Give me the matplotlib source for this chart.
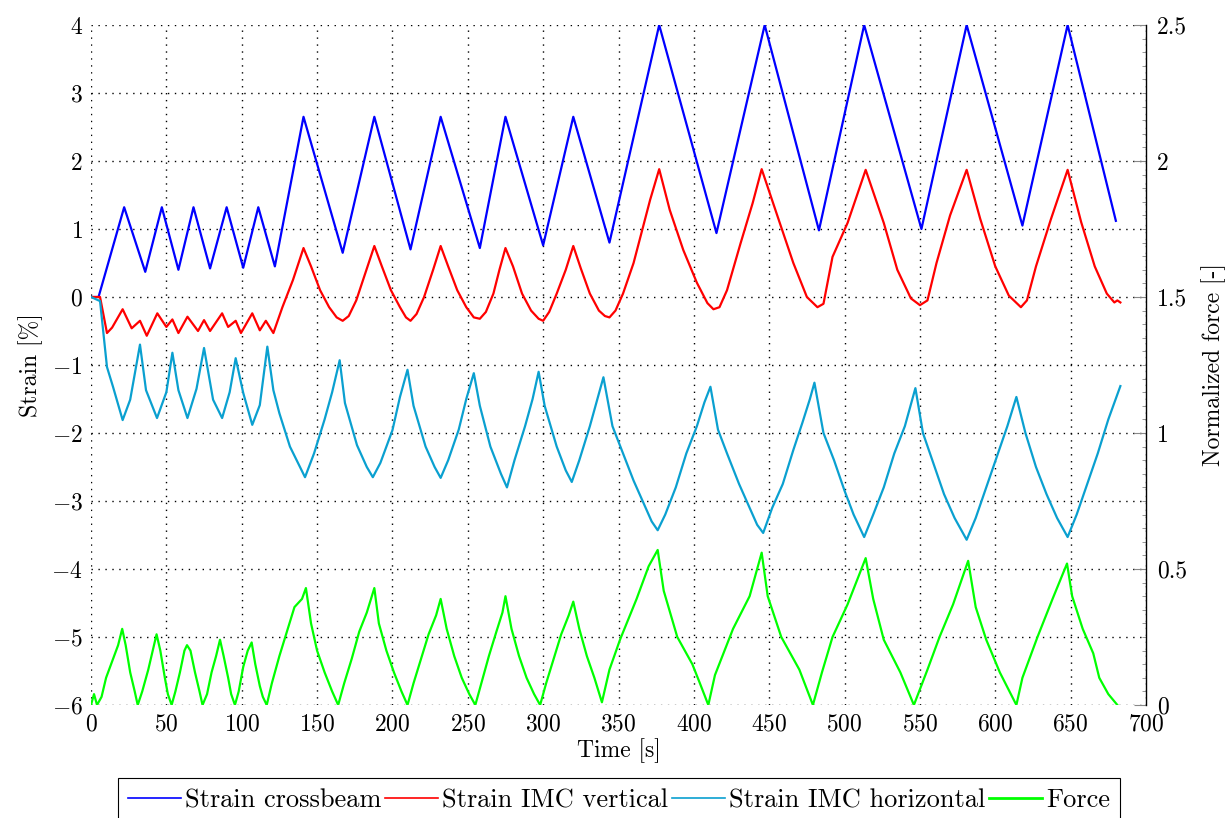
import matplotlib
matplotlib.use("Agg")
import matplotlib.pyplot as plt
from matplotlib.lines import Line2D
from matplotlib.ticker import MultipleLocator

plt.rcParams["font.family"] = "serif"
plt.rcParams["font.serif"] = ["cmr10", "DejaVu Serif"]
plt.rcParams["mathtext.fontset"] = "cm"
plt.rcParams["axes.formatter.use_mathtext"] = True
plt.rcParams["font.size"] = 17

# ---- data ----
cross_t = [0, 5, 22, 36, 47, 58, 68, 79, 90, 101, 111, 122, 141, 167, 188, 212, 232, 258,
           275, 300, 320, 344, 377, 415, 447, 483, 513, 551, 581, 618, 648, 680]
cross_y = [0, 0, 1.32, 0.37, 1.32, 0.40, 1.32, 0.42, 1.32, 0.43, 1.32, 0.45, 2.65, 0.65, 2.65, 0.70,
           2.65, 0.72, 2.65, 0.76, 2.65, 0.80, 4.0, 0.94, 4.0, 0.98, 4.0, 1.0, 4.0, 1.05, 4.0, 1.12]

vert_t = [0, 6, 10.6, 14, 21, 27, 32.5, 37, 44, 50, 54, 58, 64, 71, 75, 79, 87, 91, 96, 99.5,
          107, 112, 116, 121, 127, 134, 141, 146, 152, 158, 163, 167, 171, 176, 182, 188,
          193, 199, 205, 209, 212, 216, 221, 227, 232, 237, 243, 249, 254, 258, 262, 267,
          271, 275, 280, 286, 292, 297, 300, 304, 309, 315, 320, 325, 331, 337, 341, 344,
          348, 353, 360, 371, 377, 384, 393, 402, 409, 413, 417, 422, 431, 439, 445, 457,
          466, 475, 482, 486, 492, 502, 514, 526, 535, 544, 550, 555, 561, 570, 581, 590,
          600, 609, 617, 621, 627, 637, 648, 657, 666, 674, 679, 681, 683]
vert_y = [0, 0, -0.53, -0.45, -0.18, -0.46, -0.35, -0.57, -0.24, -0.44, -0.33, -0.53, -0.29,
          -0.50, -0.34, -0.50, -0.24, -0.44, -0.35, -0.53, -0.24, -0.49, -0.35, -0.53, -0.15,
          0.25, 0.72, 0.45, 0.10, -0.15, -0.30, -0.35, -0.28, -0.05, 0.35, 0.75, 0.45, 0.10,
          -0.15, -0.30, -0.35, -0.25, 0.0, 0.40, 0.75, 0.45, 0.10, -0.15, -0.30, -0.32, -0.22,
          0.05, 0.40, 0.72, 0.45, 0.05, -0.20, -0.32, -0.35, -0.22, 0.05, 0.40, 0.75, 0.42,
          0.05, -0.20, -0.28, -0.30, -0.20, 0.05, 0.50, 1.43, 1.88, 1.28, 0.69, 0.21, -0.09,
          -0.18, -0.15, 0.10, 0.79, 1.38, 1.88, 1.09, 0.50, 0.0, -0.15, -0.10, 0.59, 1.09,
          1.87, 1.09, 0.40, -0.02, -0.12, -0.05, 0.50, 1.20, 1.87, 1.15, 0.45, 0.02, -0.15,
          -0.05, 0.45, 1.15, 1.87, 1.10, 0.45, 0.05, -0.08, -0.05, -0.08]

horiz_t = [0, 6, 10.6, 14.6, 21, 26, 32.5, 36.5, 43.8, 50, 54, 58, 64, 70, 75, 81, 87, 92, 96,
           101, 107, 112, 117, 121, 125, 132, 142, 148, 155, 160, 165, 168.5, 176.5, 183, 187,
           192, 200, 205, 210, 214, 222, 228, 232, 237, 244, 249, 254, 258, 265, 272, 276,
           281, 288, 293, 297, 301, 309, 315, 319, 324, 331, 336, 340, 346, 353, 360, 367,
           372, 376, 381, 388, 395, 402, 407, 411, 416, 422, 430, 437, 442, 446, 452, 459,
           466, 472, 477, 480, 486, 493, 500, 506, 513, 519, 526, 533, 540, 547, 552, 559,
           566, 573, 581, 587, 594, 601, 608, 614, 620, 627, 634, 641, 648, 654, 661, 668,
           675, 683]
horiz_y = [0, -0.06, -1.03, -1.32, -1.81, -1.51, -0.70, -1.37, -1.78, -1.40, -0.82, -1.37,
           -1.78, -1.35, -0.75, -1.51, -1.78, -1.40, -0.90, -1.41, -1.88, -1.59, -0.73, -1.37,
           -1.71, -2.20, -2.65, -2.30, -1.80, -1.40, -0.93, -1.56, -2.18, -2.50, -2.65, -2.44,
           -1.96, -1.47, -1.07, -1.60, -2.20, -2.50, -2.66, -2.40, -1.95, -1.50, -1.12, -1.60,
           -2.20, -2.60, -2.80, -2.40, -1.90, -1.50, -1.10, -1.60, -2.20, -2.55, -2.72, -2.40,
           -1.90, -1.50, -1.18, -1.90, -2.30, -2.70, -3.05, -3.30, -3.43, -3.20, -2.80, -2.30,
           -1.90, -1.55, -1.32, -1.95, -2.30, -2.75, -3.10, -3.35, -3.47, -3.10, -2.75, -2.25,
           -1.85, -1.50, -1.26, -2.00, -2.40, -2.85, -3.20, -3.53, -3.20, -2.80, -2.30, -1.90,
           -1.34, -2.00, -2.45, -2.90, -3.25, -3.57, -3.25, -2.80, -2.35, -1.90, -1.47, -2.00,
           -2.50, -2.90, -3.25, -3.53, -3.20, -2.75, -2.30, -1.80, -1.31]

force_t = [0, 2, 4, 7, 10, 14, 18, 20.7, 23, 26, 29, 31, 34, 38, 41, 43.5, 46, 49, 51, 53.5,
           56, 59, 62, 63.7, 66, 69, 72, 74, 77, 80, 83, 85.6, 88, 91, 93, 95.5, 98, 101, 104,
           106.6, 109, 112, 114, 116.6, 120, 125, 130, 135, 140, 142.6, 146, 150, 155, 160,
           164, 168, 173, 178, 183, 188, 191, 196, 201, 206, 210, 214, 219, 224, 229, 232,
           236, 241, 246, 251, 255, 259, 264, 269, 273, 275, 279, 284, 289, 294, 298, 302,
           307, 312, 317, 320, 324, 329, 334, 339, 344, 351, 362, 370, 376, 380, 389, 399,
           404, 409.6, 414, 426, 437, 445, 449, 458, 470, 479, 485, 492, 502, 514, 519, 526,
           537, 546, 555, 563, 572, 582, 587, 594, 603, 614, 618, 628, 638, 647.6, 651, 658,
           665, 669, 675, 681]
force_y = [0, 0.04, 0.0, 0.03, 0.10, 0.16, 0.22, 0.28, 0.22, 0.12, 0.05, 0, 0.05, 0.13, 0.20,
           0.26, 0.20, 0.10, 0.04, 0, 0.05, 0.12, 0.20, 0.22, 0.20, 0.12, 0.05, 0, 0.04, 0.12,
           0.18, 0.24, 0.18, 0.10, 0.04, 0, 0.05, 0.14, 0.20, 0.23, 0.15, 0.07, 0.03, 0, 0.08,
           0.18, 0.27, 0.36, 0.39, 0.43, 0.30, 0.20, 0.12, 0.05, 0, 0.08, 0.17, 0.27, 0.34,
           0.43, 0.30, 0.20, 0.12, 0.05, 0, 0.08, 0.17, 0.26, 0.33, 0.39, 0.28, 0.18, 0.10,
           0.04, 0, 0.08, 0.18, 0.27, 0.34, 0.40, 0.28, 0.18, 0.10, 0.04, 0, 0.08, 0.17, 0.26,
           0.33, 0.38, 0.28, 0.18, 0.10, 0.01, 0.13, 0.24, 0.39, 0.51, 0.57, 0.42, 0.25, 0.15,
           0.08, 0, 0.11, 0.28, 0.40, 0.56, 0.40, 0.25, 0.13, 0, 0.12, 0.25, 0.37, 0.54, 0.39,
           0.24, 0.12, 0, 0.13, 0.25, 0.37, 0.53, 0.36, 0.24, 0.12, 0, 0.10, 0.25, 0.39, 0.52,
           0.40, 0.28, 0.19, 0.10, 0.04, 0]

x_ticks = list(range(0, 701, 50))
strain_ticks = list(range(-6, 5))
force_ticks = [0, 0.5, 1, 1.5, 2, 2.5]

C_CROSS = "#0000ff"
C_VERT = "#ff0000"
C_HORIZ = "#0aa0d0"
C_FORCE = "#00ff00"
LW = 1.6

fig = plt.figure(figsize=(12.31, 8.18), dpi=100)
ax = fig.add_axes([91 / 1231, 1 - 705 / 818, (1146 - 91) / 1231, (705 - 25) / 818])
ax2 = ax.twinx()

ax.plot(cross_t, cross_y, color=C_CROSS, lw=LW)
ax.plot(vert_t, vert_y, color=C_VERT, lw=LW)
ax.plot(horiz_t, horiz_y, color=C_HORIZ, lw=LW)
ax2.plot(force_t, force_y, color=C_FORCE, lw=LW)

ax.set_xlim(0, 700)
ax.set_ylim(-6, 4)
ax2.set_ylim(0, 2.5)
ax.set_xticks(x_ticks)
ax.set_yticks(strain_ticks)
ax2.set_yticks(force_ticks)
ax2.set_yticklabels(["0", "0.5", "1", "1.5", "2", "2.5"])
ax2.yaxis.set_minor_locator(MultipleLocator(0.05))

ax.grid(True, color="black", linestyle=(0, (1, 4)), linewidth=1.0)
ax.tick_params(axis="both", length=0, pad=6)
ax2.tick_params(axis="y", which="major", direction="in", length=9, color="#888888", pad=8)
ax2.tick_params(axis="y", which="minor", direction="in", length=3, color="#888888")

for a in (ax, ax2):
    for side in ("left", "top", "bottom"):
        a.spines[side].set_visible(False)
ax.spines["right"].set_visible(False)
ax2.spines["right"].set_visible(True)
ax2.spines["right"].set_linewidth(1.0)

ax.set_xlabel("Time [s]", labelpad=2)
ax.set_ylabel("Strain [%]", labelpad=6)
ax2.set_ylabel("Normalized force [-]", labelpad=10)

handles = [Line2D([], [], color=C_CROSS, lw=1.2),
           Line2D([], [], color=C_VERT, lw=1.2),
           Line2D([], [], color=C_HORIZ, lw=1.2),
           Line2D([], [], color=C_FORCE, lw=2.0)]
labels = ["Strain crossbeam", "Strain IMC vertical", "Strain IMC horizontal", "Force"]
leg = fig.legend(handles, labels, loc="upper center", bbox_to_anchor=(619 / 1231, 1 - 778 / 818),
                 ncol=4, frameon=True, fancybox=False, edgecolor="black", framealpha=1,
                 fontsize=19, handlelength=2.0, handletextpad=0.15, columnspacing=0.15,
                 borderpad=0.4, borderaxespad=0)
leg.get_frame().set_linewidth(0.8)

fig.savefig("out.png", dpi=100)
